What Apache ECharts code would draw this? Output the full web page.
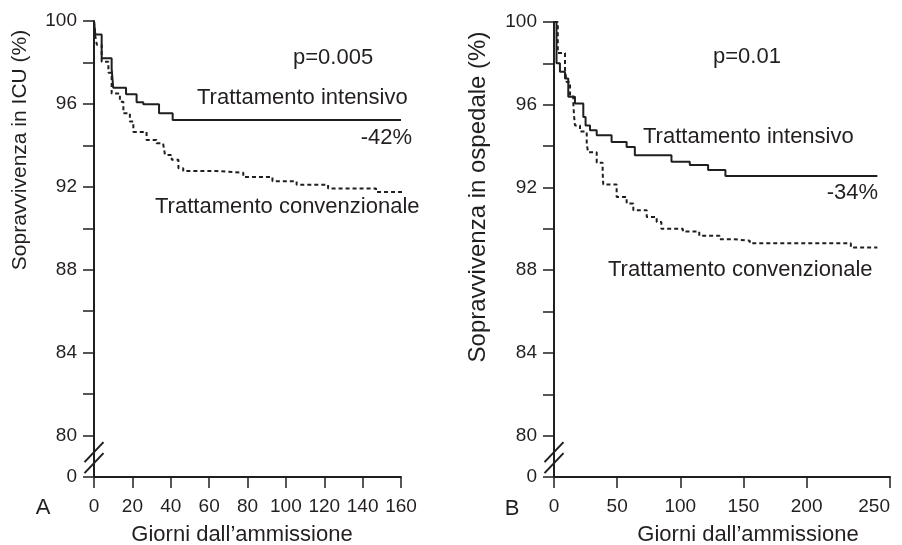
<!DOCTYPE html>
<html>
<head>
<meta charset="utf-8">
<script src="https://cdn.jsdelivr.net/npm/echarts@6/dist/echarts.min.js"></script>
<style>
  html, body { margin: 0; padding: 0; background: #fff; }
  #chart { width: 902px; height: 545px; }
</style>
</head>
<body>
<div id="chart"></div>
<script>
// Kaplan-Meier steps [giorno, sopravvivenza %]
const icuIntensive = [
    [0, 100], [0.7, 99.35], [4, 98.2], [9.2, 97.7], [10, 96.78], [16.7, 96.46],
    [22.2, 96.08], [25.7, 95.98], [33.9, 95.55], [41, 95.22], [160, 95.22]
];
const icuConventional = [
    [0, 100], [0.6, 99.3], [1.5, 98.85], [4, 98.04], [7.5, 97.5], [9.2, 96.5],
    [13.5, 96.1], [15.3, 95.55], [18.7, 95.15], [20.5, 94.65], [27.4, 94.26],
    [32.6, 94.1], [36, 94.02], [37, 93.54], [40.5, 93.3], [44, 92.9], [46.5, 92.76],
    [64, 92.68], [77.8, 92.47], [93, 92.27], [105.6, 92.1], [122, 91.92], [147, 91.75], [161, 91.75]
];
const hospIntensive = [
    [0, 100], [2, 98.0], [4.7, 97.6], [8.7, 97.27], [11.3, 96.38], [16.6, 96.06],
    [23.2, 95.41], [25, 95.0], [28.5, 94.77], [33.8, 94.53], [45.6, 94.2], [57.5, 93.96],
    [64, 93.56], [93, 93.24], [107.5, 93.08], [122, 92.84], [135.7, 92.55], [256, 92.55]
];
const hospConventional = [
    [0, 100], [3, 98.5], [8.7, 97.7], [10, 97.1], [12.7, 96.4], [15.3, 96.1], [15.8, 95.5],
    [16.6, 95.0], [20.6, 94.7], [25.9, 94.1], [27, 93.7], [33.8, 93.2], [38.5, 92.75],
    [39, 92.14], [49.6, 91.54], [57.5, 91.22], [62.8, 90.9], [73.4, 90.57], [81.3, 90.33],
    [85, 90.0], [102, 89.87], [115, 89.66], [131, 89.5], [142, 89.42], [155, 89.3],
    [235, 89.1], [256, 89.1]
];

const icuTicks = [0, 20, 40, 60, 80, 100, 120, 140, 160];
const hospTicks = [0, 50, 100, 150, 200, 266];
const hospTickLabels = ['0', '50', '100', '150', '200', '250'];

const INK = '#1f1f1f';
const TXT = '#231f20';
const FONT = '"Liberation Sans", Arial, sans-serif';

function yAxisDef(gridIndex) {
    return {
        gridIndex,
        type: 'value',
        min: 78,
        max: 100,
        interval: 2,
        axisLine: { show: true, lineStyle: { color: INK, width: 2 } },
        axisTick: { show: true, inside: false, length: 11, lineStyle: { color: INK, width: 1.5 } },
        axisLabel: {
            margin: 17,
            fontSize: 19,
            fontFamily: FONT,
            color: TXT,
            formatter: v => v === 78 ? '0' : (v % 4 === 0 ? String(v) : '')
        },
        splitLine: { show: false }
    };
}

function xAxisDef(gridIndex, max, ticks, labels, namePad) {
    return {
        gridIndex,
        type: 'value',
        min: 0,
        max,
        axisLine: { show: true, onZero: false, lineStyle: { color: INK, width: 2 } },
        axisTick: { show: true, length: 11, customValues: ticks, lineStyle: { color: INK, width: 1.5 } },
        axisLabel: {
            margin: 20,
            fontSize: 19,
            fontFamily: FONT,
            color: TXT,
            customValues: ticks,
            showMaxLabel: true,
            alignMaxLabel: labels ? 'right' : null,
            formatter: v => labels ? labels[ticks.indexOf(v)] : String(v)
        },
        splitLine: { show: false },
        name: 'Giorni dall’ammissione',
        nameLocation: 'middle',
        nameGap: 47,
        nameTextStyle: { fontSize: 22, fontFamily: FONT, color: TXT, padding: namePad }
    };
}

function kmSeries(data, xi, dashed) {
    return {
        type: 'line',
        xAxisIndex: xi,
        yAxisIndex: xi,
        step: 'end',
        showSymbol: false,
        symbol: 'none',
        silent: true,
        lineStyle: { color: INK, width: 2, type: dashed ? [4, 3] : 'solid' },
        data
    };
}

function txt(x, y, text, align, size, rot) {
    return {
        type: 'text', x, y, rotation: rot || 0, silent: true,
        style: {
            text, fontSize: size || 22, fontFamily: FONT, fill: TXT,
            align: align || 'left', verticalAlign: 'middle'
        }
    };
}

const chart = echarts.init(document.getElementById('chart'), null, { renderer: 'canvas' });

const option = {
    animation: false,
    backgroundColor: '#fff',
    grid: [
        { left: 94, top: 21, width: 307, bottom: 68, containLabel: false, outerBoundsMode: 'none' },
        { left: 554, top: 22, right: 12, bottom: 68, containLabel: false, outerBoundsMode: 'none' }
    ],
    xAxis: [
        xAxisDef(0, 160, icuTicks, null, [0, 11, 0, 0]),
        xAxisDef(1, 266, hospTicks, hospTickLabels, [0, 0, 0, 52])
    ],
    yAxis: [yAxisDef(0), yAxisDef(1)],
    series: [
        kmSeries(icuConventional, 0, true),
        kmSeries(icuIntensive, 0, false),
        kmSeries(hospConventional, 1, true),
        kmSeries(hospIntensive, 1, false)
    ],
    graphic: []
};
chart.setOption(option);

// annotations and axis break marks
const g = [
    txt(20, 150, 'Sopravvivenza in ICU (%)', 'center', 21, Math.PI / 2),
    txt(478, 197, 'Sopravvivenza in ospedale (%)', 'center', 24, Math.PI / 2),
    txt(43, 508, 'A', 'center', 22),
    txt(512, 509, 'B', 'center', 22),
    txt(293, 58, 'p=0.005', 'left'),
    txt(197, 98, 'Trattamento intensivo', 'left'),
    txt(412, 138, '-42%', 'right'),
    txt(155, 207, 'Trattamento convenzionale', 'left'),
    txt(713, 57, 'p=0.01', 'left'),
    txt(643, 137, 'Trattamento intensivo', 'left'),
    txt(878, 193, '-34%', 'right'),
    txt(608, 270, 'Trattamento convenzionale', 'left')
];
[0, 1].forEach(i => {
    [79.2, 78.67].forEach(v => {
        const p = chart.convertToPixel({ xAxisIndex: i, yAxisIndex: i }, [0, v]);
        g.push({
            type: 'line', silent: true,
            shape: { x1: p[0] - 9.5, y1: p[1] + 10, x2: p[0] + 9.5, y2: p[1] - 10 },
            style: { stroke: INK, lineWidth: 2 }
        });
    });
});
chart.setOption({ graphic: g });
</script>
</body>
</html>
